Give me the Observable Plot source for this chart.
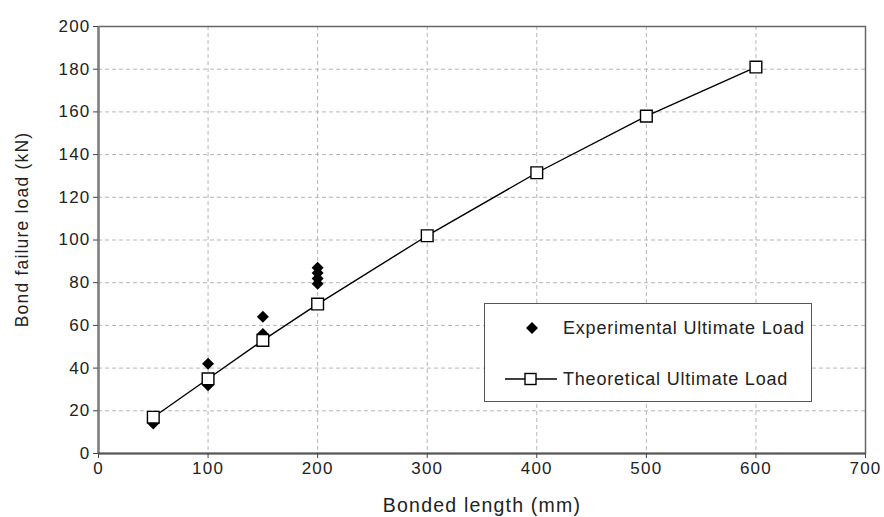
<!DOCTYPE html>
<html>
<head>
<meta charset="utf-8">
<script src="https://cdn.jsdelivr.net/npm/d3@7"></script>
<script src="https://cdn.jsdelivr.net/npm/@observablehq/plot@0.6"></script>
<style>
  html, body { margin: 0; padding: 0; background: #fff; }
  #wrap { position: relative; width: 884px; height: 517px; font-family: "Liberation Sans", Arial, sans-serif; overflow: hidden; }
  #chart svg { letter-spacing: 1.2px; }
  #legend { position: absolute; left: 484px; top: 303px; width: 328px; height: 99px; box-sizing: border-box;
            border: 1.5px solid #555; background: #fff; font-size: 18px; letter-spacing: 0.8px; color: #222; }
  #legend .row { position: absolute; left: 0; height: 20px; display: flex; align-items: center; white-space: nowrap; }
  #legend svg { overflow: visible; }
</style>
</head>
<body>
<div id="wrap">
  <div id="chart"></div>
  <div id="legend">
    <div class="row" style="top:14px">
      <svg width="78" height="20"><path d="M47,4 L53,10 L47,16 L41,10 Z" fill="#000"/></svg>
      <span>Experimental Ultimate Load</span>
    </div>
    <div class="row" style="top:65px">
      <svg width="78" height="20"><line x1="20" y1="10" x2="72" y2="10" stroke="#000" stroke-width="1.4"/><rect x="40" y="4.5" width="11" height="11" fill="#fff" stroke="#000" stroke-width="1.4"/></svg>
      <span>Theoretical Ultimate Load</span>
    </div>
  </div>
</div>
<script>
// Experimental ultimate loads (bonded length mm, load kN)
const expLength = [50, 100, 100, 150, 150, 200, 200, 200, 200];
const expLoad   = [14, 42, 32, 64, 56, 87, 84.5, 82, 79.5];
// Theoretical ultimate loads
const theoLength = [50, 100, 150, 200, 300, 400, 500, 600];
const theoLoad   = [17, 35, 53, 70, 102, 131.5, 158, 181];
const xTicks = [0, 100, 200, 300, 400, 500, 600, 700];
const yTicks = [0, 20, 40, 60, 80, 100, 120, 140, 160, 180, 200];

const expData = expLength.map((x, i) => ({x, y: expLoad[i]}));
const theoData = theoLength.map((x, i) => ({x, y: theoLoad[i]}));

const chart = Plot.plot({
  width: 884,
  height: 517,
  marginLeft: 98,
  marginRight: 19,
  marginTop: 26,
  marginBottom: 64,
  style: { fontFamily: "'Liberation Sans', Arial, sans-serif", fontSize: "17px", color: "#222", background: "#fff", overflow: "visible" },
  x: { domain: [0, 700], ticks: xTicks, label: null },
  y: { domain: [0, 200], ticks: yTicks, label: null },
  marks: [
    Plot.gridX(xTicks.slice(1, -1), { stroke: "#b5b5b5", strokeOpacity: 1, strokeDasharray: "4,3" }),
    Plot.gridY(yTicks.slice(1, -1), { stroke: "#b5b5b5", strokeOpacity: 1, strokeDasharray: "4,3" }),
    Plot.frame({ stroke: "#666", strokeWidth: 1.5 }),
    Plot.ruleX([0], { stroke: "#808080", strokeWidth: 2.5 }),
    Plot.ruleY([0], { stroke: "#555", strokeWidth: 2 }),
    Plot.axisX({ ticks: xTicks, tickSize: 5, tickPadding: 3, stroke: "#444", fill: "#222", fontSize: 17, label: null }),
    Plot.axisY({ ticks: yTicks, tickSize: 5, tickPadding: 3, stroke: "#444", fill: "#222", fontSize: 17, label: null }),
    Plot.line(theoData, { x: "x", y: "y", stroke: "#000", strokeWidth: 1.4 }),
    Plot.dot(expData, { x: "x", y: "y", symbol: "diamond2", r: 5.4, fill: "#000", stroke: "none" }),
    Plot.dot(theoData, { x: "x", y: "y", symbol: "square", r: 6.6, fill: "#fff", stroke: "#000", strokeWidth: 1.4 }),
    Plot.text(["Bonded length (mm)"], { frameAnchor: "bottom", dy: 58, fontSize: 19.5, fill: "#222" }),
    Plot.text(["Bond failure load (kN)"], { frameAnchor: "left", textAnchor: "middle", dx: -76, dy: -10.5, rotate: -90, fontSize: 17.5, fill: "#222" })
  ]
});
document.getElementById("chart").appendChild(chart);
</script>
</body>
</html>
